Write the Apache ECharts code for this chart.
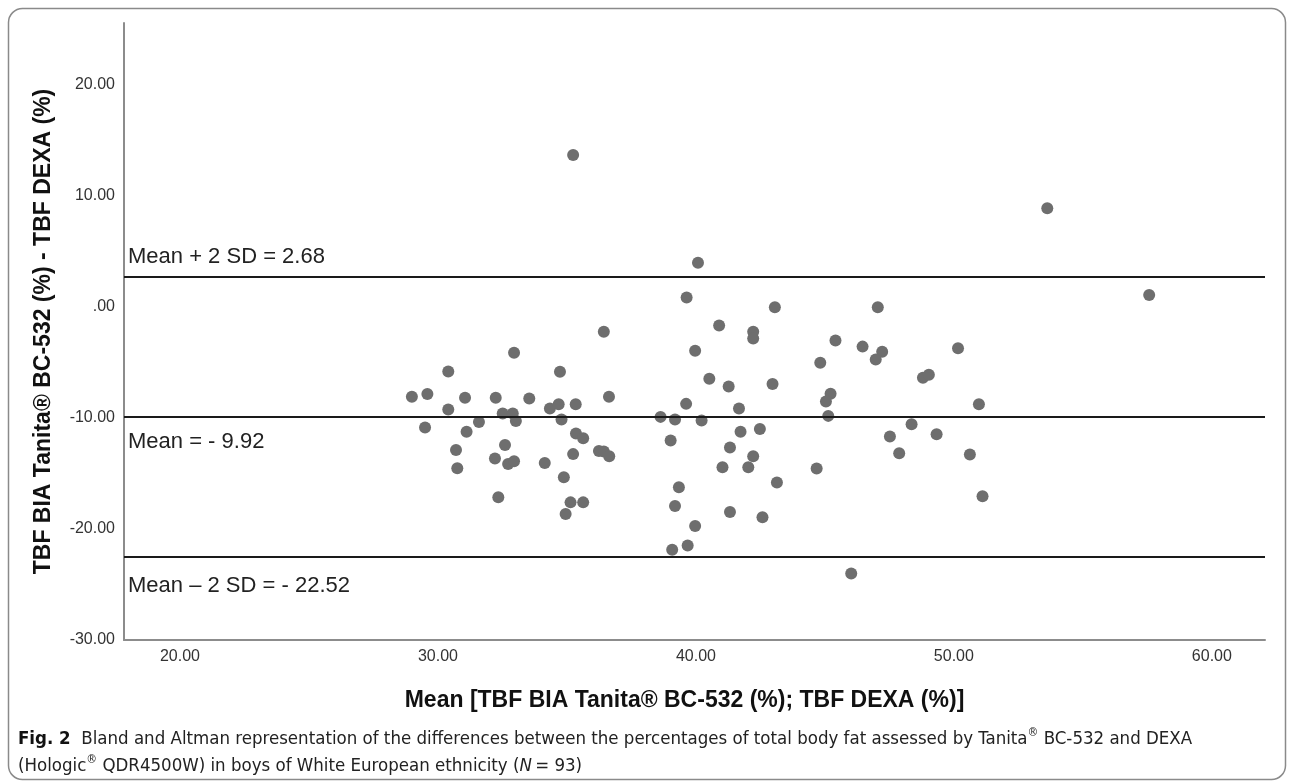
<!DOCTYPE html>
<html><head><meta charset="utf-8">
<script src="https://cdn.jsdelivr.net/npm/echarts@6/dist/echarts.min.js"></script>
<style>html,body{margin:0;padding:0;background:#fff}#c{width:1290px;height:784px}</style>
</head><body><div id="c"></div>
<script>
// Mean of the two methods (x) and difference BIA - DEXA (y)
const meanX = [32.95,30.40,28.99,29.59,31.05,32.24,30.40,32.51,32.90,33.02,31.59,29.50,31.11,32.60,30.70,32.21,32.72,32.95,30.75,32.34,
  35.24,40.08,39.64,43.06,47.05,40.90,36.43,42.22,42.22,45.41,46.46,47.22,46.97,39.97,44.82,34.73,40.52,42.97,41.27,45.22,
  45.04,33.54,36.63,34.34,34.68,35.34,39.62,41.67,38.63,39.19,40.22,45.13,34.79,41.73,42.48,35.35,35.63,47.52,39.02,41.32,
  47.88,35.24,36.24,36.43,36.64,42.22,34.14,41.03,42.03,44.68,34.88,43.14,39.34,35.14,35.63,34.95,39.19,41.32,42.58,39.97,
  39.68,39.08,46.02,53.62,57.57,50.16,48.80,49.03,50.97,48.36,49.33,50.62,51.11];
const diffY = [-4.17,-5.84,-8.11,-7.88,-8.20,-8.20,-9.27,-9.62,-9.62,-10.31,-10.40,-10.88,-11.26,-12.45,-12.90,-13.68,-14.16,-13.93,-14.56,-17.15,
  13.63,3.93,0.81,-0.07,-0.07,-1.72,-2.28,-2.28,-2.88,-3.07,-3.61,-4.08,-4.77,-3.99,-5.06,-5.88,-6.51,-6.98,-7.20,-7.86,
  -8.55,-8.27,-8.11,-9.18,-8.80,-8.80,-8.76,-9.18,-9.93,-10.16,-10.25,-9.84,-10.16,-11.26,-11.01,-11.42,-11.86,-11.70,-12.05,-12.68,
  -13.21,-13.28,-12.99,-13.05,-13.47,-13.47,-14.07,-14.47,-14.47,-14.57,-15.36,-15.83,-16.27,-17.62,-17.62,-18.66,-17.94,-18.48,-18.95,-19.74,
  -21.50,-21.88,-24.02,8.84,1.03,-3.76,-6.42,-6.15,-8.80,-10.60,-11.49,-13.31,-17.06];
const xTicks = [20, 30, 40, 50, 60];
const yTicks = [-30, -20, -10, 0, 10, 20];
const limitValues = [2.68, -9.92, -22.52];
const limitLabels = ['Mean + 2 SD = 2.68', 'Mean = - 9.92', 'Mean \u2013 2 SD = - 22.52'];
const xTitle = 'Mean [TBF BIA Tanita\u00ae BC-532 (%); TBF DEXA (%)]';
const yTitle = 'TBF BIA Tanita\u00ae BC-532 (%) - TBF DEXA (%)';

const points = meanX.map((x, i) => [x, diffY[i]]);
const chart = echarts.init(document.getElementById('c'), null, {renderer: 'canvas'});
const axisFont = '"Liberation Sans", Arial, sans-serif';
const capFont = '"Liberation Sans Narrow", "DejaVu Sans Condensed", "Roboto Condensed", "Liberation Sans", sans-serif';
const fmt = v => v === 0 ? '.00' : v.toFixed(2);
const labelGaps = [9, 14, 18];

chart.setOption({
  animation: false,
  backgroundColor: '#fff',
  grid: {left: 124, top: 23, right: 25, bottom: 144, containLabel: false},
  xAxis: {
    type: 'value', min: 17.83, max: 62.06,
    axisLine: {show: true, onZero: false, lineStyle: {color: '#8c8c8c', width: 2}},
    axisTick: {show: false}, splitLine: {show: false},
    axisLabel: {customValues: xTicks, formatter: fmt, fontSize: 16, color: '#333', margin: 9, fontFamily: axisFont},
    name: xTitle, nameLocation: 'middle', nameGap: 49,
    nameTextStyle: {fontSize: 23, fontWeight: 'bold', color: '#111', fontFamily: axisFont, padding: [0, 20, 0, 0]}
  },
  yAxis: {
    type: 'value', min: -30, max: 25.5,
    axisLine: {show: true, onZero: false, lineStyle: {color: '#8c8c8c', width: 2}},
    axisTick: {show: false}, splitLine: {show: false},
    axisLabel: {customValues: yTicks, formatter: fmt, fontSize: 16, color: '#333', margin: 9, fontFamily: axisFont},
    name: yTitle, nameLocation: 'middle', nameGap: 69, nameRotate: 90,
    nameTextStyle: {fontSize: 23, fontWeight: 'bold', color: '#111', fontFamily: axisFont}
  },
  series: [{
    type: 'scatter', data: points, symbol: 'circle', symbolSize: 12,
    itemStyle: {color: '#6e6e6e', opacity: 1},
    markLine: {
      silent: true, symbol: ['none', 'none'], animation: false,
      lineStyle: {color: '#1a1a1a', width: 2, type: 'solid'},
      data: limitValues.map((v, i) => ({
        yAxis: v,
        label: {
          show: true, formatter: limitLabels[i],
          position: i === 0 ? 'insideStartTop' : 'insideStartBottom',
          distance: [4, labelGaps[i]], fontSize: 22, color: '#222', fontFamily: axisFont
        }
      }))
    }
  }],
  graphic: [
    {type: 'rect', left: 6, top: 6, shape: {width: 1277, height: 771, r: 14}, silent: true,
     style: {fill: 'none', stroke: '#8a8a8a', lineWidth: 1.5}},
    {type: 'text', left: 18, top: 727, silent: true,
     style: {
       text: '{b|Fig. 2}  Bland and Altman representation of the differences between the percentages of total body fat assessed by Tanita{s|\u00ae} BC-532 and DEXA',
       font: '18.5px ' + capFont, fill: '#222', lineHeight: 24,
       rich: {b: {fontWeight: 'bold', fontSize: 18.5, fontFamily: capFont, fill: '#111'},
              s: {fontSize: 12, verticalAlign: 'top', fontFamily: capFont, lineHeight: 24}}
     }},
    {type: 'text', left: 18, top: 754, silent: true,
     style: {
       text: '(Hologic{s|\u00ae} QDR4500W) in boys of White European ethnicity ({i|N}\u2009= 93)',
       font: '18.5px ' + capFont, fill: '#222', lineHeight: 24,
       rich: {i: {fontStyle: 'italic', fontSize: 18.5, fontFamily: capFont},
              s: {fontSize: 12, verticalAlign: 'top', fontFamily: capFont, lineHeight: 24}}
     }}
  ]
});
</script></body></html>
